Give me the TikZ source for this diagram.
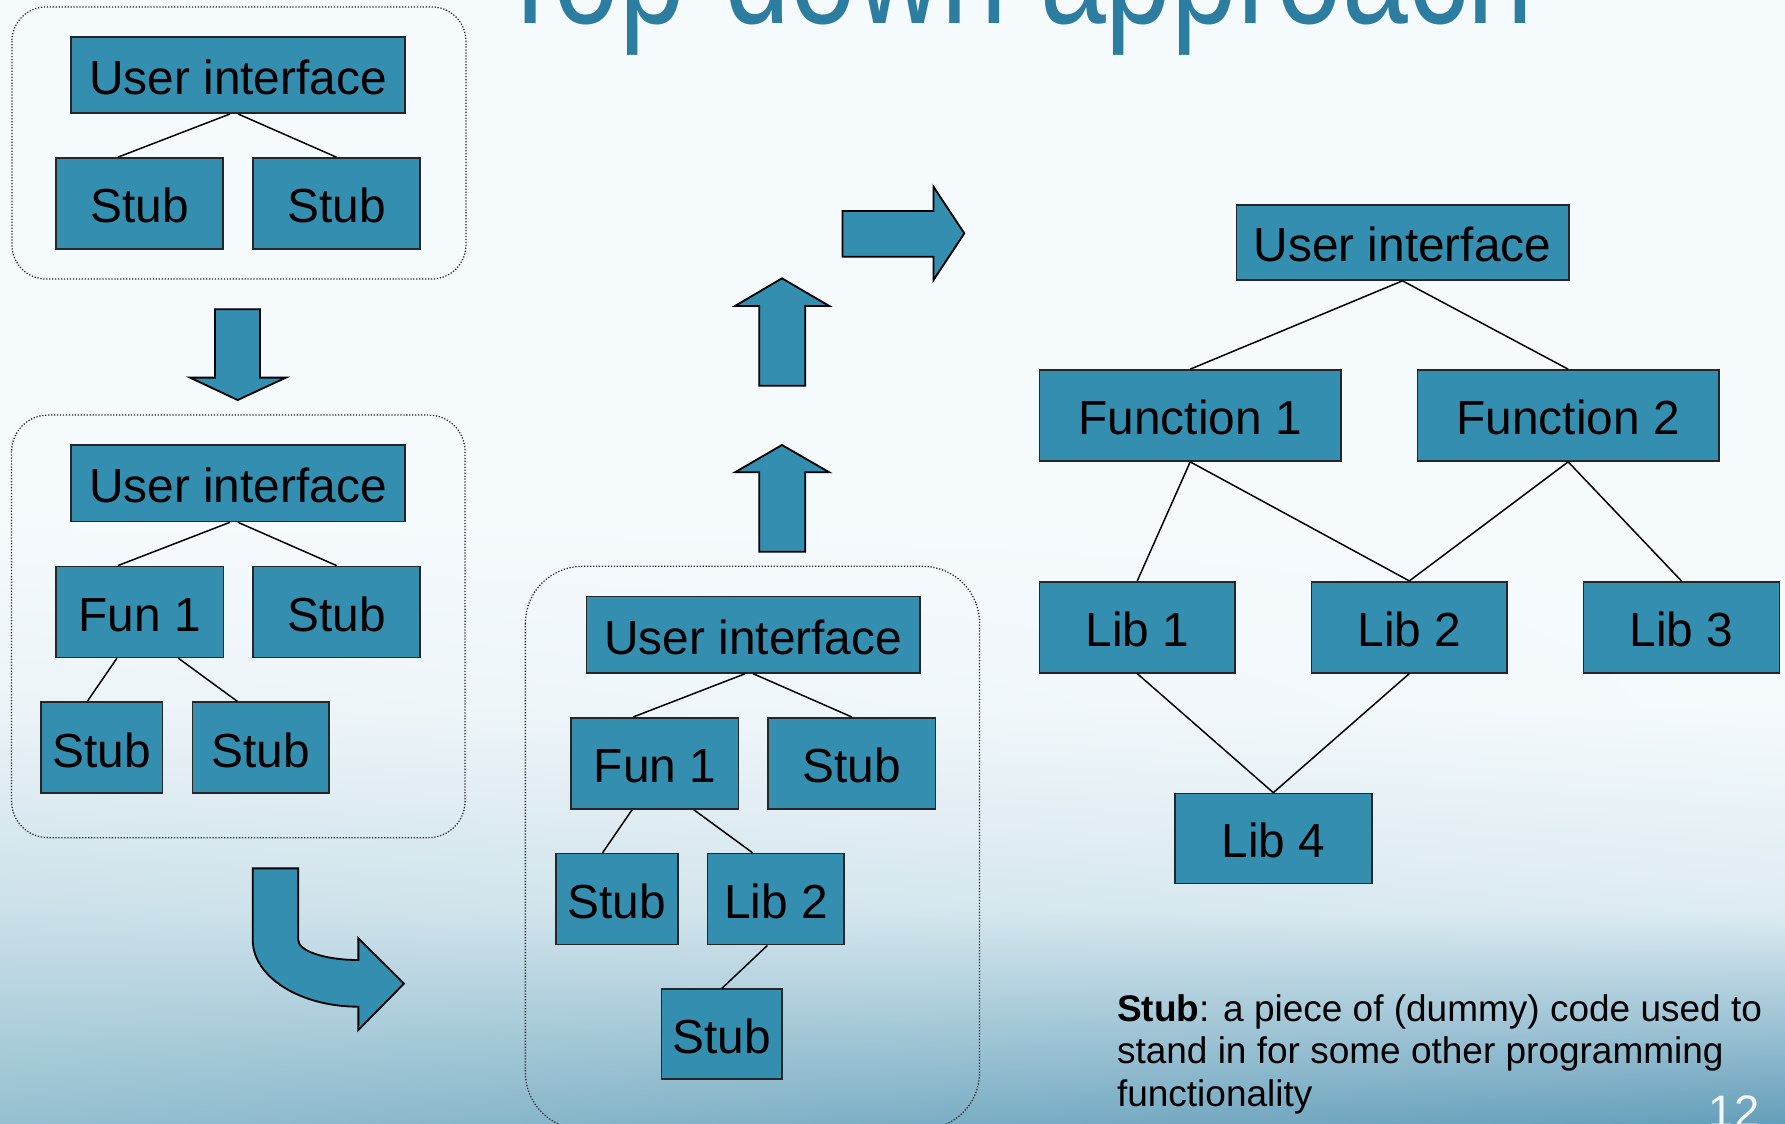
\documentclass[tikz,border=0pt]{standalone}
\usepackage{fontspec}
\setmainfont{Liberation Sans}
\usepackage{graphicx}
\usetikzlibrary{shadings}

\definecolor{boxblue}{RGB}{52,142,175}
\definecolor{titleblue}{RGB}{45,125,160}
\definecolor{bglight}{RGB}{245,250,253}
\definecolor{bgtint}{RGB}{236,244,248}
\definecolor{bgmidl}{RGB}{203,224,233}
\definecolor{bgmidr}{RGB}{222,236,242}
\definecolor{bglowl}{RGB}{150,192,208}
\definecolor{bglowr}{RGB}{100,158,186}

\newcommand{\boxfont}{\fontsize{42}{48}\selectfont}
\newcommand{\notefont}{\fontsize{32.5}{37.5}\selectfont}
\newcommand{\headfont}{\fontsize{135}{140}\selectfont}
\newcommand{\pagefont}{\fontsize{40}{44}\selectfont}

\tikzset{
        modnode/.style={rectangle, draw=black!85, line width=1.4pt, fill=boxblue, inner sep=0pt, font=\boxfont, text height=34pt, text depth=0pt},
        % User interface boxes
        node_ui/.style={modnode, minimum width=293pt, minimum height=67pt},
        % Function, stub and library boxes
        node_mod/.style={modnode, minimum height=80pt},
        % Lines between modules
        link/.style={draw=black, line width=1.3pt},
        % Dotted frame round each stage
        stage/.style={draw=black!85, line width=1.1pt, dash pattern=on 1.1pt off 1.5pt},
        % Block arrows
        blockarrow/.style={draw=black, line width=1.6pt, fill=boxblue, line join=miter}
}

\begin{document}
\begin{tikzpicture}[x=1pt, y=-1pt]
    \useasboundingbox (0,0) rectangle (1568,987);
    \clip (0,0) rectangle (1568,987);

    % background
    \fill[bglight] (0,0) rectangle (1568,987);
    \shade[upper left=bglight, upper right=bglight, lower left=bgtint, lower right=bglight] (0,450) rectangle (1568,620);
    \shade[upper left=bgtint, upper right=bglight, lower left=bgmidl, lower right=bgmidr] (0,620) rectangle (1568,800);
    \shade[upper left=bgmidl, upper right=bgmidr, lower left=bglowl, lower right=bglowr] (0,800) rectangle (1568,987);

    % title
    \node[anchor=base west, text=titleblue, font=\headfont, inner sep=0pt] (title) at (434,21) {\scalebox{0.77}[1]{Top-down approach}};

    % stage 1
    \draw[stage, rounded corners=30pt] (10.5,6.1) rectangle (409.3,245.1);
    \node[node_ui] (g1ui) at (209.1,65.9) {User interface};
    \node[node_mod, minimum width=147pt] (g1stubl) at (122.5,178.8) {Stub};
    \node[node_mod, minimum width=147pt] (g1stubr) at (295.6,178.8) {Stub};
    \draw[link] ([xshift=-7pt]g1ui.south) -- ([xshift=-19pt]g1stubl.north);
    \draw[link] (g1ui.south) -- (g1stubr.north);

    % stage 2
    \draw[stage, rounded corners=32pt] (10.2,364.6) rectangle (408.5,735.8);
    \node[node_ui] (g2ui) at (209,424.6) {User interface};
    \node[node_mod, minimum width=147pt] (g2fun) at (122.7,537.5) {Fun 1};
    \node[node_mod, minimum width=147pt] (g2stub) at (295.6,537.5) {Stub};
    \node[node_mod, minimum width=107pt] (g2stubl) at (89.3,656.8) {Stub};
    \node[node_mod, minimum width=120pt] (g2stubr) at (229,656.8) {Stub};
    \draw[link] ([xshift=-7pt]g2ui.south) -- ([xshift=-19pt]g2fun.north);
    \draw[link] (g2ui.south) -- (g2stub.north);
    \draw[link] ([xshift=-20pt]g2fun.south) -- ([xshift=-12.6pt]g2stubl.north);
    \draw[link] ([xshift=34pt]g2fun.south) -- ([xshift=-20.5pt]g2stubr.north);

    % stage 3
    \draw[stage, rounded corners=50pt] (461.5,497.5) rectangle (860.5,992);
    \node[node_ui] (g3ui) at (661.6,557.6) {User interface};
    \node[node_mod, minimum width=147pt] (g3fun) at (575.3,670.5) {Fun 1};
    \node[node_mod, minimum width=147pt] (g3stub) at (748.2,670.5) {Stub};
    \node[node_mod, minimum width=107pt] (g3stubl) at (541.9,789.8) {Stub};
    \node[node_mod, minimum width=120pt] (g3lib) at (681.6,789.8) {Lib 2};
    \node[node_mod, minimum width=106pt, minimum height=79pt] (g3stubb) at (634,908.5) {Stub};
    \draw[link] ([xshift=-7pt]g3ui.south) -- ([xshift=-19pt]g3fun.north);
    \draw[link] (g3ui.south) -- (g3stub.north);
    \draw[link] ([xshift=-20pt]g3fun.south) -- ([xshift=-12.6pt]g3stubl.north);
    \draw[link] ([xshift=34pt]g3fun.south) -- ([xshift=-20.5pt]g3lib.north);
    \draw[link] ([xshift=-7.5pt]g3lib.south) -- (g3stubb.north);

    % final system
    \node[node_ui, minimum width=292pt, minimum height=66pt] (ui) at (1232,213) {User interface};
    \node[node_mod, minimum width=265pt] (fun1) at (1045.5,365) {Function 1};
    \node[node_mod, minimum width=265pt] (fun2) at (1377.5,365) {Function 2};
    \node[node_mod, minimum width=172pt] (lib1) at (999,551) {Lib 1};
    \node[node_mod, minimum width=172pt] (lib2) at (1238,551) {Lib 2};
    \node[node_mod, minimum width=172pt] (lib3) at (1477,551) {Lib 3};
    \node[node_mod, minimum width=173pt, minimum height=79pt] (lib4) at (1118.5,736.5) {Lib 4};
    \draw[link] (ui.south) -- (fun1.north);
    \draw[link] (ui.south) -- (fun2.north);
    \draw[link] (fun1.south) -- (lib1.north);
    \draw[link] (fun1.south) -- (lib2.north);
    \draw[link] (fun2.south) -- (lib2.north);
    \draw[link] (fun2.south) -- (lib3.north);
    \draw[link] (lib1.south) -- (lib4.north);
    \draw[link] (lib2.south) -- (lib4.north);

    % arrows between the stages
    \draw[blockarrow] (188.9,271.7) -- (228.4,271.7) -- (228.4,331.7) -- (251.2,331.7) -- (208.8,351.4) -- (166.9,331.7) -- (188.9,331.7) -- cycle;
    \draw[blockarrow] (222,762.8) -- (262,762.8) -- (262,825.7) .. controls (262,835.4) and (285.6,843.3) .. (314.8,843.3) -- (314.8,824.2) -- (354.9,864) -- (314.8,904.8) -- (314.8,884.3) .. controls (263.5,884.3) and (222,858.1) .. (222,825.7) -- cycle;
    \draw[blockarrow] (667,484.6) -- (667,414.9) -- (645.6,414.9) -- (686.9,390.9) -- (728.5,414.9) -- (707.4,414.9) -- (707.4,484.6) -- cycle;
    \draw[blockarrow] (667,338.8) -- (667,268.8) -- (645.6,268.8) -- (686.9,244.5) -- (728.5,268.8) -- (707.4,268.8) -- (707.4,338.8) -- cycle;
    \draw[blockarrow] (740,185.3) -- (820,185.3) -- (820,164) -- (847.1,205) -- (820,246) -- (820,225.5) -- (740,225.5) -- cycle;

    % note and page number
    \node[anchor=base west, align=left, font=\notefont, inner sep=0pt] (note) at (981,972) {\textbf{Stub}: a piece of (dummy) code used to\\stand in for some other programming\\functionality};
    \node[anchor=base west, font=\pagefont, text=white!92!bglowr, inner sep=0pt] (pageno) at (1501,990) {12};
\end{tikzpicture}
\end{document}
